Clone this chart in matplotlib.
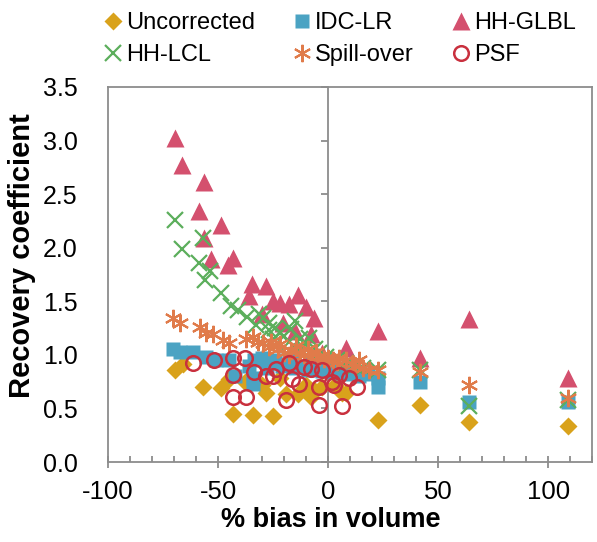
import numpy as np
import matplotlib.pyplot as plt
from matplotlib.ticker import MultipleLocator

plt.rcParams['font.family'] = ['Liberation Sans', 'DejaVu Sans']
plt.rcParams['axes.unicode_minus'] = False

# % bias in volume (x) and recovery coefficient (y) for each correction method
unc_x = [-69.7, -66, -57, -48.6, -43.3, -34.3, -25.2, -45, -38, -28.4, -30, -19.1, -13.9,
         -22, -10, -6.3, -7.8, -3, 3, 6.3, 8, 22.8, 41.9, 64.2, 109]
unc_y = [0.86, 0.91, 0.70, 0.69, 0.45, 0.44, 0.43, 0.77, 0.75, 0.64, 0.72, 0.63, 0.63,
         0.78, 0.72, 0.67, 0.61, 0.70, 0.72, 0.64, 0.64, 0.39, 0.53, 0.37, 0.34]

idc_x = [-70.4, -67.4, -61.4, -55.5, -51, -45, -42.5, -34.3, -33.5, -34.3, -30, -27, -24,
         -21, -18, -15, -12, -9, -6, -3, 0, 3, 6, 10, 14, 18, 22.8, 22.8, 41.9, 64.2, 109,
         -28, -16, -8, 2, 8, -36]
idc_y = [1.05, 1.03, 1.03, 0.98, 0.95, 0.95, 0.80, 0.78, 0.95, 0.73, 0.97, 0.93, 0.95,
         0.90, 0.92, 0.88, 0.90, 0.86, 0.88, 0.85, 0.86, 0.84, 0.83, 0.82, 0.80, 0.82,
         0.78, 0.70, 0.75, 0.56, 0.56, 0.88, 0.95, 0.92, 0.88, 0.88, 0.90]

glbl_x = [-69.7, -66.2, -56.4, -58.8, -48.6, -56.6, -53, -43.3, -45.6, -34.5, -28.2, -36,
          -25, -22, -18, -13.5, -10, -6.5, -20.7, -7.8, -30, -15, -3, 8, 22.8, 41.9, 64.2, 109]
glbl_y = [3.02, 2.77, 2.61, 2.34, 2.21, 2.09, 1.89, 1.90, 1.84, 1.66, 1.64, 1.55,
          1.50, 1.48, 1.47, 1.56, 1.45, 1.34, 1.30, 1.19, 1.38, 1.22, 1.02, 1.06, 1.22,
          0.97, 1.33, 0.78]

lcl_x = [-69.7, -66.2, -57, -58.6, -56, -53.5, -48.6, -44, -41, -37, -31.2, -29.7, -26.7,
         -15, -8.6, -22, -18, -12, -4, -1, 4, 8, 12, 16, 22.8, 41.9, 64.2, 109,
         -33, -27, -24, -20, -17, -13, -10, -6, -25]
lcl_y = [2.26, 1.99, 2.09, 1.86, 1.70, 1.78, 1.58, 1.46, 1.42, 1.35, 1.38, 1.34, 1.23,
         1.32, 1.16, 1.20, 1.12, 1.08, 1.02, 0.98, 0.95, 0.92, 0.90, 0.88, 0.86, 0.86,
         0.52, 0.58, 1.28, 1.30, 1.25, 1.18, 1.24, 1.15, 1.10, 1.05, 1.15]

spill_x = [-70.4, -67.4, -58.4, -55.5, -52.4, -47.8, -45, -37.3, -34.3, -29.7, -27, -23,
           -20, -17, -14.6, -11, -8, -5.6, -2, 2, 5, 8, 10.9, 14, 18.5, 22.8, 41.9, 64.2, 109,
           -32, -26, -22, -18, -13, -9, -4, 0, 4, 12, 16]
spill_y = [1.34, 1.30, 1.26, 1.20, 1.19, 1.14, 1.11, 1.15, 1.17, 1.11, 1.07, 1.05,
           1.02, 1.04, 1.08, 1.00, 0.98, 1.03, 0.96, 0.95, 0.97, 0.95, 0.91, 0.95, 0.86,
           0.86, 0.84, 0.72, 0.60, 1.12, 1.12, 1.10, 1.00, 1.02, 1.05, 0.98, 0.97, 0.93,
           0.90, 0.88]

psf_x = [-61.4, -51.8, -43.3, -38, -43.3, -43.3, -37.2, -33.5, -28.2, -23.7, -19.1, -16.2,
         -13.1, -10.9, -4.1, -4.1, 2.7, 6.5, -17.8, -25.2, -7.8, -2.6, 5, 9.5, 13.3, 1.8]
psf_y = [0.92, 0.95, 0.97, 0.97, 0.81, 0.61, 0.61, 0.84, 0.80, 0.87, 0.58, 0.77,
         0.73, 0.89, 0.70, 0.53, 0.72, 0.52, 0.92, 0.80, 0.87, 0.86, 0.81, 0.78, 0.70, 0.75]

gray = '#8c8c8c'

fig = plt.figure(figsize=(5.97, 5.42), dpi=100)
ax = fig.add_axes([0.181, 0.1476, 0.811, 0.692])

ax.plot(unc_x, unc_y, 'D', ms=9, color='#D9A21B', mec='none', label='Uncorrected')
ax.plot(idc_x, idc_y, 's', ms=9.5, color='#4BA3C3', mec='none', label='IDC-LR')
ax.plot(glbl_x, glbl_y, '^', ms=13.5, color='#D4506E', mec='none', label='HH-GLBL')
ax.plot(lcl_x, lcl_y, 'x', ms=11.5, mew=1.6, color='#5CAE5C', label='HH-LCL')
ax.plot(spill_x, spill_y, marker=(6, 2, 0), ls='none', ms=12.5, mew=1.5, color='#E07B4A',
        label='Spill-over')
ax.plot(psf_x, psf_y, 'o', ms=10.5, mfc='none', mew=1.8, color='#C9303E', label='PSF')

ax.set_xlim(-100, 120)
ax.set_ylim(0, 3.5)
ax.xaxis.set_major_locator(MultipleLocator(50))
ax.xaxis.set_minor_locator(MultipleLocator(10))
ax.yaxis.set_major_locator(MultipleLocator(0.5))
ax.yaxis.set_major_formatter(plt.FormatStrFormatter('%.1f'))

for s in ax.spines.values():
    s.set_color(gray)
    s.set_linewidth(1.3)

ax.tick_params(axis='x', which='major', direction='inout', length=8, width=1.3,
               color=gray, labelsize=18.5, pad=9)
ax.tick_params(axis='x', which='minor', direction='in', length=4, width=1.3, color=gray)
ax.tick_params(axis='y', length=0, labelsize=18, pad=22)

# y axis crossing at x = 0
xmin, xmax = ax.get_xlim()
sec = ax.secondary_yaxis((0 - xmin) / (xmax - xmin))
sec.yaxis.set_major_locator(MultipleLocator(0.5))
sec.tick_params(direction='out', length=5, width=1.3, color=gray, labelleft=False,
                labelright=False)
for s in sec.spines.values():
    s.set_color(gray)
    s.set_linewidth(1.3)

ax.set_xlabel('% bias in volume', fontsize=19.5, fontweight='bold')
ax.xaxis.set_label_coords(0.459, -0.12)
ax.set_ylabel('Recovery coefficient', fontsize=21, fontweight='bold')
ax.yaxis.set_label_coords(-0.148, 0.55)

h, l = ax.get_legend_handles_labels()
order = [0, 3, 1, 4, 2, 5]
fig.legend([h[i] for i in order], [l[i] for i in order], ncol=3, loc='upper left',
           bbox_to_anchor=(0.15, 1.0), frameon=False, fontsize=17, handletextpad=0.05,
           columnspacing=1.5, handlelength=1.0, labelspacing=0.45, borderaxespad=0.1)

fig.savefig('out.png', dpi=100)
